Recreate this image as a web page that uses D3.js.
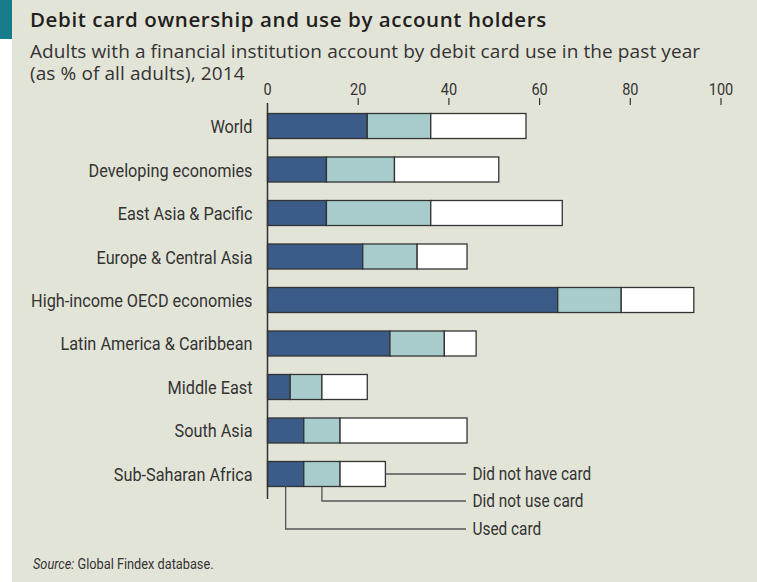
<!DOCTYPE html>
<html>
<head>
<meta charset="utf-8">
<script src="https://cdn.jsdelivr.net/npm/d3@7"></script>
<style>
  body { margin: 0; background: #fff; }
  svg { display: block; }
  .title { font-family: "Open Sans", "Noto Sans", sans-serif; font-weight: 600; font-size: 20.5px; letter-spacing: 0.6px; fill: #231f20; }
  .subtitle { font-family: "Open Sans", "Noto Sans", sans-serif; font-size: 19px; letter-spacing: 0.1px; fill: #333; }
  .narrow { font-family: Roboto, "Liberation Sans", sans-serif; fill: #333; }
</style>
</head>
<body>
<div id="chart"></div>
<script>
const width = 757
const height = 582

const categories = ["World", "Developing economies", "East Asia & Pacific", "Europe & Central Asia",
    "High-income OECD economies", "Latin America & Caribbean", "Middle East", "South Asia", "Sub-Saharan Africa"]
const usedCard = [22, 13, 13, 21, 64, 27, 5, 8, 8]
const didNotUseCard = [14, 15, 23, 12, 14, 12, 7, 8, 8]
const didNotHaveCard = [21, 23, 29, 11, 16, 7, 10, 28, 10]
const seriesNames = ["Used card", "Did not use card", "Did not have card"]
const seriesColors = ["#3b5b88", "#a8cccc", "#ffffff"]
const xTicks = [0, 20, 40, 60, 80, 100]

// no condensed face installed, so squeeze Roboto horizontally
const squeeze = 0.88

const svg = d3.select("#chart")
    .append("svg")
    .attr("width", width)
    .attr("height", height)

function narrowText(parent, str, tx, ty, size, anchor = "start") {
    return parent.append("text")
        .attr("class", "narrow")
        .attr("transform", `translate(${tx},${ty}) scale(${squeeze},1)`)
        .attr("text-anchor", anchor)
        .style("font-size", `${size}px`)
        .text(str)
}

// panel + accent
svg.append("rect").attr("x", 12).attr("y", 0).attr("width", width - 12).attr("height", height).attr("fill", "#e3e4d8")
svg.append("rect").attr("x", 0).attr("y", 0).attr("width", 12).attr("height", 39).attr("fill", "#177c8c")

svg.append("text").attr("class", "title").attr("x", 30).attr("y", 27)
    .text("Debit card ownership and use by account holders")
svg.append("text").attr("class", "subtitle").attr("x", 30).attr("y", 58)
    .text("Adults with a financial institution account by debit card use in the past year")
svg.append("text").attr("class", "subtitle").attr("x", 30).attr("y", 80)
    .text("(as % of all adults), 2014")

const x = d3.scaleLinear().domain([0, 100]).range([267.5, 721])
const y = d3.scaleBand().domain(categories).range([113.5, 486.5]).paddingInner(0.425).paddingOuter(0)

// stack the three series
const rows = categories.map((c, i) => ({
    name: c,
    "Used card": usedCard[i],
    "Did not use card": didNotUseCard[i],
    "Did not have card": didNotHaveCard[i]
}))
const stacked = d3.stack().keys(seriesNames)(rows)

// x axis on top: labels + short ticks
const axisG = svg.append("g")
xTicks.forEach(t => narrowText(axisG, t, x(t), 95, 16.5, "middle"))
axisG.selectAll(".tick-mark")
    .data(xTicks.filter(d => d > 0))
    .enter()
    .append("line")
    .attr("x1", d => x(d)).attr("x2", d => x(d))
    .attr("y1", 98).attr("y2", 105)
    .attr("stroke", "#333").attr("stroke-width", 1.2)

// bars
svg.selectAll(".series")
    .data(stacked)
    .enter()
    .append("g")
    .attr("fill", (d, i) => seriesColors[i])
    .selectAll("rect")
    .data(d => d)
    .enter()
    .append("rect")
    .attr("x", d => x(d[0]))
    .attr("width", d => x(d[1]) - x(d[0]))
    .attr("y", d => y(d.data.name))
    .attr("height", y.bandwidth())
    .attr("stroke", "#333")
    .attr("stroke-width", 1.3)

// vertical axis line
svg.append("line")
    .attr("x1", x(0)).attr("x2", x(0))
    .attr("y1", 103).attr("y2", 499)
    .attr("stroke", "#333").attr("stroke-width", 1.5)

// category labels
const labelG = svg.append("g")
categories.forEach(c => narrowText(labelG, c, 252.5, y(c) + y.bandwidth() / 2 + 7, 18.5, "end"))

// legend callouts from the last bar
const lastIdx = categories.length - 1
const lastTop = y(categories[lastIdx])
const lastBottom = lastTop + y.bandwidth()
const lastMid = lastTop + y.bandwidth() / 2
const legendLineEnd = 466
const legendRows = [
    { name: "Did not have card", yPos: lastMid },
    { name: "Did not use card", yPos: lastMid + 27 },
    { name: "Used card", yPos: lastMid + 55 }
]
legendRows.forEach(r => {
    let s = stacked.find(d => d.key == r.name)[lastIdx]
    let path
    if (r.name == "Did not have card") {
        path = `M${x(s[1])},${r.yPos}H${legendLineEnd}`
    } else {
        let midX = x((s[0] + s[1]) / 2)
        path = `M${midX},${lastBottom}V${r.yPos}H${legendLineEnd}`
    }
    svg.append("path")
        .attr("d", path)
        .attr("fill", "none")
        .attr("stroke", "#555")
        .attr("stroke-width", 1.3)
    narrowText(svg, r.name, legendLineEnd + 6.5, r.yPos + 6.5, 17.5)
})

// source
const source = svg.append("text")
    .attr("class", "narrow")
    .attr("transform", `translate(33,569) scale(${squeeze},1)`)
    .style("font-size", "14.5px")
source.append("tspan").style("font-style", "italic").text("Source:")
source.append("tspan").text(" Global Findex database.")
</script>
</body>
</html>
